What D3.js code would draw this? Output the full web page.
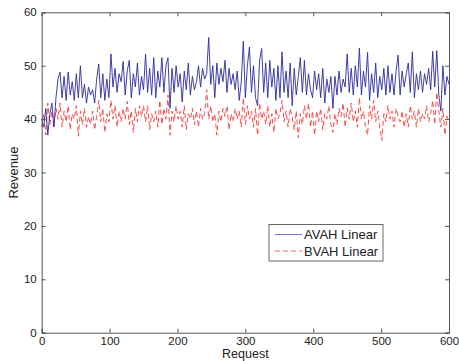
<!DOCTYPE html>
<html>
<head>
<meta charset="utf-8">
<script src="https://cdn.jsdelivr.net/npm/d3@7"></script>
<style>
  body { margin: 0; background: #fff; }
  text { font-family: "Liberation Sans", Arial, sans-serif; fill: #222; }
</style>
</head>
<body>
<div id="chart"></div>
<script>
// values, one every 3 requests
const step = 3;
const avahLinear = [
  40, 38.5, 42, 37, 41, 43, 38.5, 44, 47.5, 48.8,
  44, 48, 43.5, 48.8, 44.5, 47, 43.5, 48.5, 44, 50,
  44, 46.5, 43, 46, 44.5, 45.5, 43, 47.5, 50.3, 44,
  48.5, 43.5, 47.5, 44, 52.2, 46, 49.5, 45, 48.5, 47,
  50.8, 44.5, 49, 51, 44, 48.5, 46, 50.5, 44.5, 48,
  45.5, 52.2, 45, 49.5, 44.5, 51.5, 44, 49, 46, 51.5,
  45, 50, 51.5, 42, 49.5, 45, 50, 46, 48.5, 43.2,
  49, 45.5, 50.5, 44.5, 48, 45.5, 47, 50, 46, 49.5,
  47.5, 48.5, 55.3, 46.5, 50, 44, 50.5, 46.5, 49.5, 47,
  51, 45, 49.5, 46.5, 48.5, 45.5, 49, 43.5, 47, 54.6,
  44, 50, 53.5, 45, 50, 44, 42.5, 51, 53.2, 45,
  50.5, 44, 51, 46, 49.5, 43.5, 50, 44, 52.6, 45,
  49, 44, 50.5, 42.5, 49.5, 44.5, 48, 51.5, 45, 51,
  44.5, 48.5, 45.5, 44, 49, 45.5, 48.5, 44, 49.5, 43,
  47.5, 45, 48, 42, 48, 44.5, 49, 45, 47.5, 46,
  52.2, 45, 49.5, 44.5, 50, 46, 53.3, 44.5, 49, 46,
  52.5, 43.5, 48.5, 45, 50.5, 44, 48, 45.5, 49.5, 44.5,
  50, 45, 48.5, 44.5, 49, 52, 44.5, 49, 46, 48.5,
  50.5, 45, 52.6, 44, 48.5, 45.5, 49, 45, 48.5, 46.5,
  49.5, 45.5, 52.7, 46, 52.8, 44.5, 41.5, 50, 44.5, 48,
  46.5
];
const bvahLinear = [
  38.5, 41, 37, 43, 39, 41.5, 38.5, 42, 40, 43,
  38.5, 41.5, 39.5, 42.5, 38, 41, 40, 42.5, 36.8, 41.5,
  39, 42, 38.5, 40.5, 39, 41.5, 38, 40.5, 43.5, 39.5,
  42, 37.5, 41, 39.5, 43.5, 40, 42.5, 38.5, 41.5, 39.5,
  42, 40, 43.3, 39, 41.5, 37.5, 42, 39.5, 42.5, 40.5,
  42.5, 39.5, 42.5, 38, 41, 39.5, 41.5, 38.5, 43.5, 39,
  42, 40, 44.5, 37, 41.5, 39.5, 42.5, 40, 41.5, 38.5,
  42.5, 38, 41, 40, 42, 39, 41.5, 38.5, 42, 40,
  41, 45.5, 40, 42.5, 39.5, 41, 37, 41.5, 39.5, 42,
  40.5, 42.5, 38, 41, 39.5, 42, 40, 41.5, 38.5, 44,
  39, 42.5, 40, 41.5, 38.5, 42, 37, 43, 40, 41.5,
  39, 42.5, 38.5, 41, 37.5, 42, 40, 41, 43.5, 39.5,
  41.5, 38.5, 42, 40.5, 38, 41.5, 36.5, 41, 39, 42.5,
  40, 43, 38.5, 41.5, 37, 41.5, 39.5, 42, 38, 41,
  40, 42.5, 39, 37.5, 41, 39, 42, 40.5, 43, 38.5,
  42, 40, 43, 39.5, 41.5, 38.5, 44, 40, 41.5, 38.5,
  37, 42.5, 40, 43.5, 39.5, 41.5, 38.5, 36, 41, 39.5,
  42.5, 40, 41.5, 38.5, 42, 40.5, 39.5, 41.5, 38.5, 41,
  38.5, 42.5, 40, 41.5, 38.5, 42, 39.5, 41, 40, 42.5,
  39.5, 41, 43.5, 39, 45, 41.5, 38.5, 42, 37, 40.5,
  39.5
];
const xTicks = [0, 100, 200, 300, 400, 500, 600];
const yTicks = [0, 10, 20, 30, 40, 50, 60];
const seriesNames = ['AVAH Linear', 'BVAH Linear'];

const width = 459, height = 361;
const margin = { top: 12.3, right: 10, bottom: 28.3, left: 41.7 };
const w = width - margin.left - margin.right;
const h = height - margin.top - margin.bottom;

const svg = d3.select('#chart').append('svg')
  .attr('width', width)
  .attr('height', height);

const plot = svg.append('g')
  .attr('transform', 'translate(' + margin.left + ',' + margin.top + ')');

const x = d3.scaleLinear().domain([0, 600]).range([0, w]);
const y = d3.scaleLinear().domain([0, 60]).range([h, 0]);

const line = d3.line()
  .x((d, i) => x(i * step))
  .y(d => y(d));

plot.append('path')
  .datum(bvahLinear)
  .attr('fill', 'none')
  .attr('stroke', '#f23c3c')
  .attr('stroke-width', 0.9)
  .attr('stroke-dasharray', '5,3')
  .attr('d', line);

plot.append('path')
  .datum(avahLinear)
  .attr('fill', 'none')
  .attr('stroke', '#2b2b9c')
  .attr('stroke-width', 0.9)
  .attr('d', line);

// axes, matlab style with ticks inside on all four sides
const tickLen = 4;
const axisColor = '#555';

const axisBottom = plot.append('g')
  .attr('transform', 'translate(0,' + h + ')')
  .call(d3.axisBottom(x).tickValues(xTicks).tickSize(-tickLen).tickPadding(4));
const axisTop = plot.append('g')
  .call(d3.axisTop(x).tickValues(xTicks).tickSize(-tickLen).tickFormat(''));
const axisLeft = plot.append('g')
  .call(d3.axisLeft(y).tickValues(yTicks).tickSize(-tickLen).tickPadding(5));
const axisRight = plot.append('g')
  .attr('transform', 'translate(' + w + ',0)')
  .call(d3.axisRight(y).tickValues(yTicks).tickSize(-tickLen).tickFormat(''));

[axisBottom, axisTop, axisLeft, axisRight].forEach(a => {
  a.select('.domain').attr('stroke', axisColor);
  a.selectAll('.tick line').attr('stroke', axisColor);
  a.selectAll('text')
    .attr('fill', '#222')
    .style('font-family', '"Liberation Sans", Arial, sans-serif')
    .style('font-size', '11.5px');
});

svg.append('text')
  .attr('x', margin.left + x(300))
  .attr('y', 358.3)
  .attr('text-anchor', 'middle')
  .style('font-size', '12.5px')
  .text('Request');

svg.append('text')
  .attr('transform', 'translate(18,' + (margin.top + h / 2) + ') rotate(-90)')
  .attr('text-anchor', 'middle')
  .style('font-size', '13px')
  .text('Revenue');

// legend
const legend = svg.append('g').attr('transform', 'translate(269,224.5)');
legend.append('rect')
  .attr('width', 114)
  .attr('height', 36.5)
  .attr('fill', '#fff')
  .attr('stroke', '#444')
  .attr('stroke-width', 0.8);

const legendStyles = [
  { color: '#6a6ac8', dash: null },
  { color: '#f05a5a', dash: '5,3' }
];
seriesNames.forEach((name, i) => {
  const row = legend.append('g').attr('transform', 'translate(0,' + (10 + i * 16.5) + ')');
  row.append('line')
    .attr('x1', 6).attr('x2', 33)
    .attr('stroke', legendStyles[i].color)
    .attr('stroke-width', 0.9)
    .attr('stroke-dasharray', legendStyles[i].dash);
  row.append('text')
    .attr('x', 35)
    .attr('dy', '0.35em')
    .style('font-size', '13px')
    .text(name);
});
</script>
</body>
</html>
